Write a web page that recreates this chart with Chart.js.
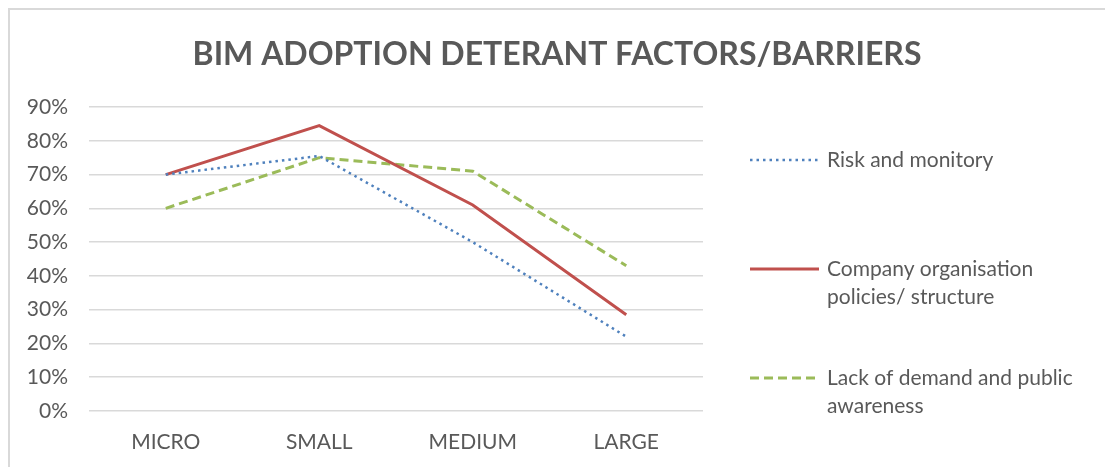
<!DOCTYPE html>
<html>
<head>
<meta charset="utf-8">
<script src="https://cdn.jsdelivr.net/npm/chart.js@4"></script>
<style>
  body { margin: 0; background: #fff; overflow: hidden; }
  #frame { position: absolute; left: 8px; top: 8px; width: 1200px; height: 600px;
           border-left: 2px solid #d9d9d9; border-top: 2px solid #d9d9d9; }
  #chart { position: absolute; left: 0; top: 0; }
</style>
</head>
<body>
<div id="frame"></div>
<canvas id="chart" width="1105" height="467"></canvas>
<script>
// Dados do gráfico
const categories = ['MICRO', 'SMALL', 'MEDIUM', 'LARGE'];
const riskValues = [70, 75.5, 50, 22];
const companyValues = [70, 84.5, 61, 28.5];
const demandValues = [60, 75, 71, 43];
const yTicks = [0, 10, 20, 30, 40, 50, 60, 70, 80, 90];
const seriesNames = [
    ['Risk and monitory'],
    ['Company organisation', 'policies/ structure'],
    ['Lack of demand and public', 'awareness']
];
const chartTitle = 'BIM ADOPTION DETERANT FACTORS/BARRIERS';

const textColor = '#595959';
const fontFamily = 'Lato, "Open Sans", sans-serif';

// título e legenda desenhados à mão (centralização e quebra de linha)
const sideLegend = {
    id: 'sideLegend',
    afterDraw(chart) {
        const ctx = chart.ctx;
        ctx.save();
        ctx.fillStyle = textColor;
        ctx.font = 'bold 32px ' + fontFamily;
        ctx.textAlign = 'center';
        ctx.textBaseline = 'middle';
        ctx.fillText(chartTitle, 557, 55);

        const rows = [160, 269, 378];
        chart.data.datasets.forEach((ds, i) => {
            const y = rows[i];
            ctx.beginPath();
            ctx.strokeStyle = ds.borderColor;
            ctx.lineWidth = ds.borderWidth;
            ctx.setLineDash(ds.borderDash || []);
            ctx.moveTo(750, y);
            ctx.lineTo(819, y);
            ctx.stroke();
            ctx.setLineDash([]);
            ctx.fillStyle = textColor;
            ctx.font = '21px ' + fontFamily;
            ctx.textBaseline = 'middle';
            ctx.textAlign = 'left';
            ds.legendLines.forEach((t, k) => ctx.fillText(t, 827, y + k * 28));
        });
        ctx.restore();
    }
};

const config = {
    type: 'line',
    data: {
        labels: categories,
        datasets: [{
            label: seriesNames[0].join(' '),
            legendLines: seriesNames[0],
            data: riskValues,
            borderColor: '#4f81bd',
            borderWidth: 2.5,
            borderDash: [2.5, 4]
        }, {
            label: seriesNames[1].join(' '),
            legendLines: seriesNames[1],
            data: companyValues,
            borderColor: '#c0504d',
            borderWidth: 3
        }, {
            label: seriesNames[2].join(' '),
            legendLines: seriesNames[2],
            data: demandValues,
            borderColor: '#9bbb59',
            borderWidth: 3,
            borderDash: [9, 5]
        }]
    },
    options: {
        responsive: false,
        animation: false,
        elements: {
            point: { radius: 0, hoverRadius: 0 },
            line: { tension: 0, fill: false }
        },
        layout: { padding: { left: 10, right: 402, top: 107, bottom: 10 } },
        plugins: {
            legend: { display: false },
            tooltip: { enabled: false },
            title: { display: false }
        },
        scales: {
            x: {
                offset: true,
                grid: { display: false, drawTicks: false, offset: true },
                border: { display: false },
                ticks: { color: textColor, font: { family: fontFamily, size: 21 }, padding: 19 },
                afterFit(scale) { scale.height = 46; }
            },
            y: {
                min: 0,
                max: 90,
                afterBuildTicks(scale) { scale.ticks = yTicks.map(v => ({ value: v })); },
                grid: { color: '#d9d9d9', lineWidth: 1.5, drawTicks: false },
                border: { display: false },
                ticks: {
                    color: textColor,
                    font: { family: fontFamily, size: 21 },
                    padding: 21,
                    callback: v => v + '%'
                },
                afterFit(scale) { scale.width = 79; }
            }
        }
    },
    plugins: [sideLegend]
};

window.onload = function() {
    const ctx = document.getElementById('chart').getContext('2d');
    new Chart(ctx, config);
};
</script>
</body>
</html>
